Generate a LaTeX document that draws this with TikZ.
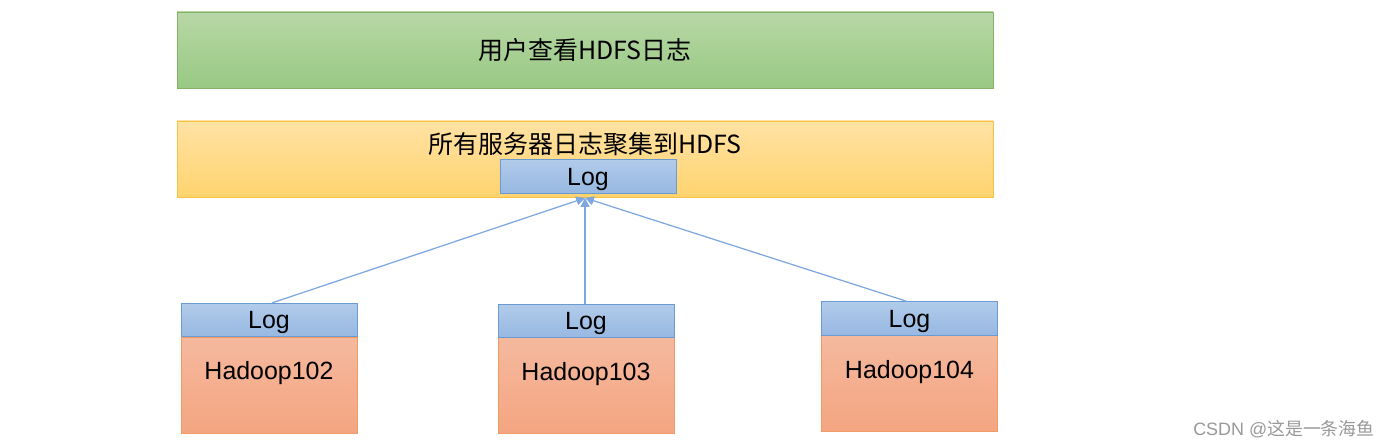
\documentclass[tikz,border=0pt]{standalone}
\usepackage{fontspec}
\setmainfont{Liberation Sans}
\newfontfamily\cjk{Noto Sans CJK SC}
\usetikzlibrary{arrows.meta}

\definecolor{greenTop}{HTML}{B8D7A6}
\definecolor{greenBot}{HTML}{98C983}
\definecolor{greenLine}{HTML}{82B366}
\definecolor{yellowTop}{HTML}{FFE2A4}
\definecolor{yellowBot}{HTML}{FFD36E}
\definecolor{yellowLine}{HTML}{F5C242}
\definecolor{blueTop}{HTML}{B1CBEA}
\definecolor{blueBot}{HTML}{97B8E2}
\definecolor{blueLine}{HTML}{6C9BD2}
\definecolor{salmonTop}{HTML}{F5B99E}
\definecolor{salmonBot}{HTML}{F4A581}
\definecolor{salmonLine}{HTML}{F09A66}
\definecolor{arrowBlue}{HTML}{7EA6E0}

\begin{document}
\begin{tikzpicture}[x=0.02cm, y=-0.02cm,
    every node/.style={font=\fontsize{14.2}{17}\selectfont},
    wide/.style={rectangle, minimum width=16.32cm, minimum height=1.52cm, inner sep=0pt},
    userbox/.style={wide, draw=greenLine, top color=greenTop, bottom color=greenBot},
    collectbox/.style={wide, draw=yellowLine, top color=yellowTop, bottom color=yellowBot},
    logbox/.style={rectangle, draw=blueLine, top color=blueTop, bottom color=blueBot,
        minimum width=3.52cm, minimum height=0.67cm, inner sep=0pt, text depth=0pt},
    hostbox/.style={rectangle, draw=salmonLine, top color=salmonTop, bottom color=salmonBot,
        minimum width=3.52cm, minimum height=1.92cm, inner sep=0pt},
    hostname/.style={text depth=0pt},
    feed/.style={draw=arrowBlue, line width=0.7pt, -{Triangle[width=5pt,length=5pt]}}]
    \useasboundingbox (0,0) rectangle (1394,448);

    % top layers
    \node (user) [userbox] at (585,50) {\cjk 用户查看HDFS日志};
    \node (hdfs) [collectbox] at (585,159) {};
    \node (hdfstext) at (585,144) {\cjk 所有服务器日志聚集到HDFS};
    \node (central) [logbox] at (588,176.5) {Log};
    \coordinate (sink) at (585,198);

    % servers
    \node (body102) [hostbox] at (269,385) {};
    \node (log102) [logbox] at (269,320) {Log};
    \node (name102) [hostname] at (269,370) {Hadoop102};

    \node (body103) [hostbox] at (586,385.5) {};
    \node (log103) [logbox] at (586,321) {Log};
    \node (name103) [hostname] at (586,371) {Hadoop103};

    \node (body104) [hostbox] at (909.5,383) {};
    \node (log104) [logbox] at (909.5,318.5) {Log};
    \node (name104) [hostname] at (909.5,369) {Hadoop104};

    % logs go up
    \draw [feed] ([xshift=0.06cm]log102.north) -- (sink);
    \draw [feed] ([xshift=-0.02cm]log103.north) -- (sink);
    \draw [feed] ([xshift=-0.05cm]log104.north) -- (sink);

    \node (mark) [text=black!40, font=\fontsize{10.2}{12}\selectfont] at (1284,429) {CSDN @{\cjk 这是一条海鱼}};
\end{tikzpicture}
\end{document}
